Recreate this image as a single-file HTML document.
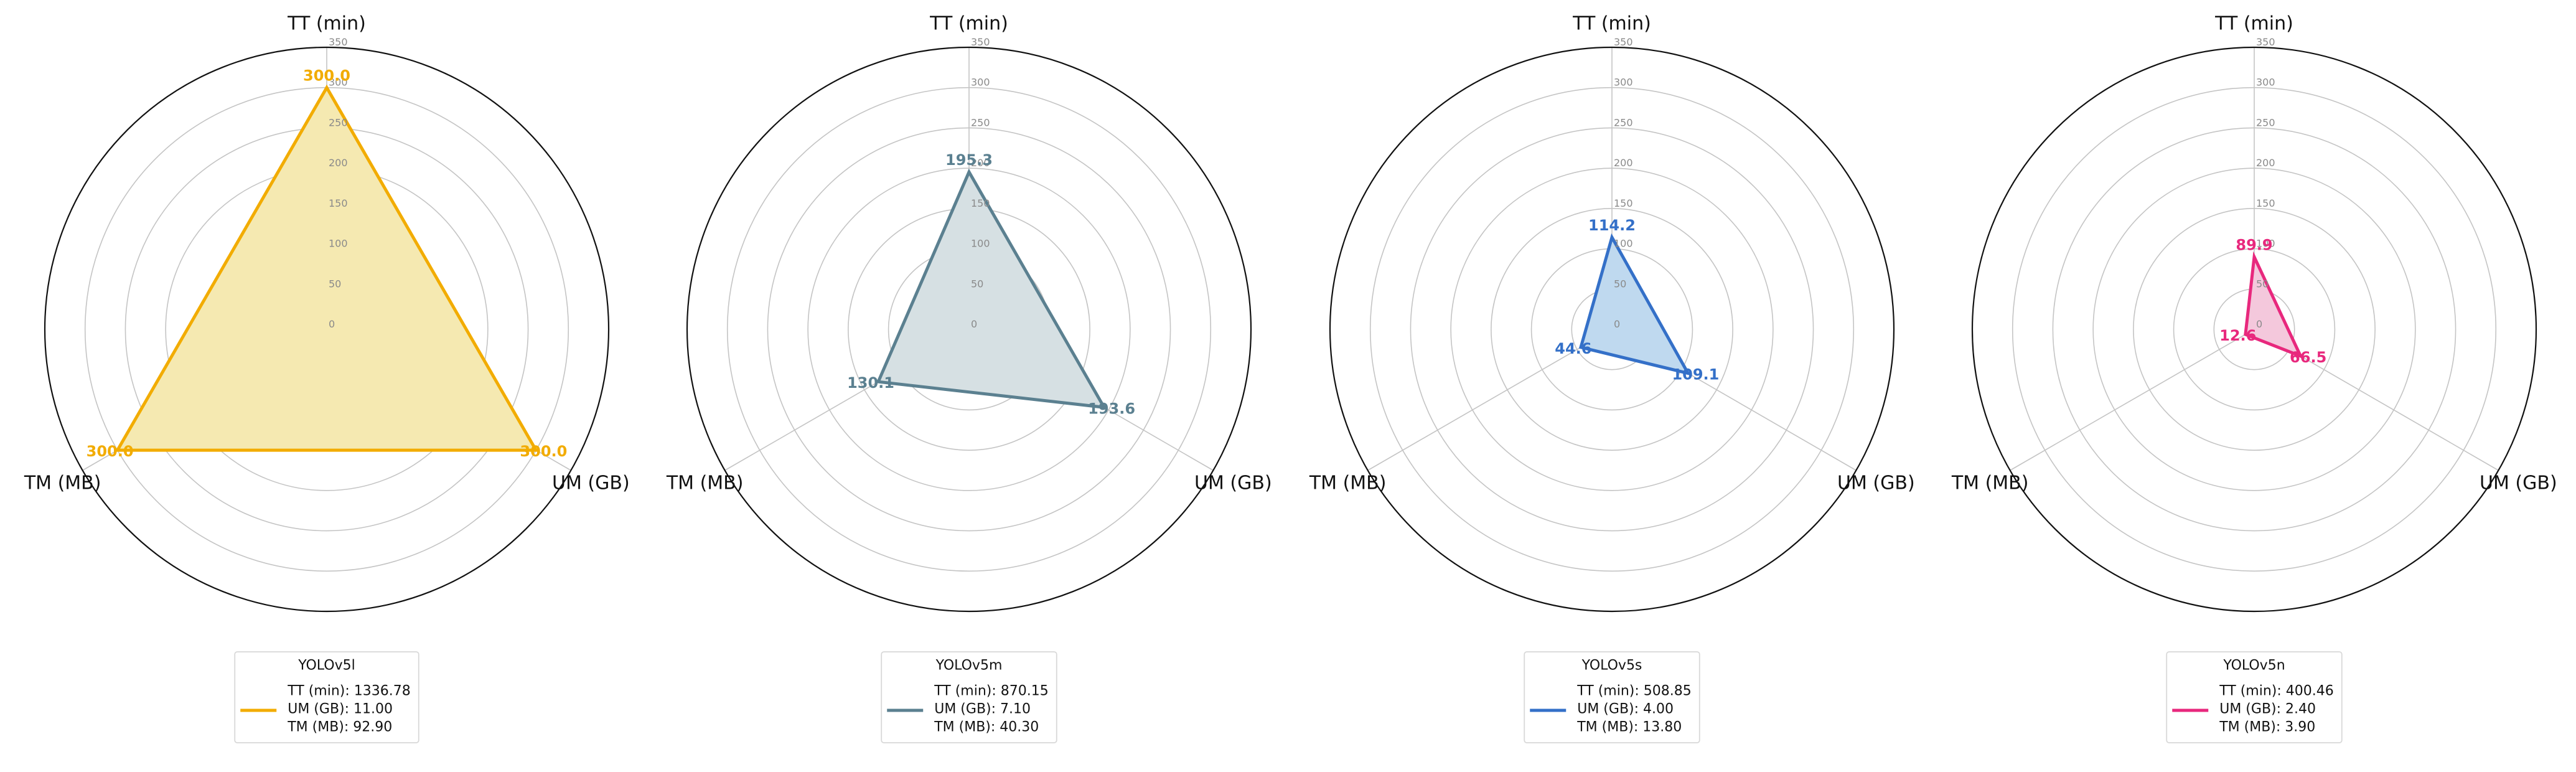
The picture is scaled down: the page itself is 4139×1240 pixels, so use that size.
<!DOCTYPE html>
<html><head><meta charset="utf-8">
<style>
html,body{margin:0;padding:0;background:#fff;}
svg{display:block;font-family:"DejaVu Sans","Liberation Sans",sans-serif;}
</style></head>
<body>
<svg id="chart" width="4139" height="1240" viewBox="0 0 4139 1240" xmlns="http://www.w3.org/2000/svg"></svg>
<script>
const axesNames = ["TT (min)", "UM (GB)", "TM (MB)"];
const models = ["YOLOv5l", "YOLOv5m", "YOLOv5s", "YOLOv5n"];
const ttScaled = [300.0, 195.3, 114.2, 89.9];
const umScaled = [300.0, 193.6, 109.1, 66.5];
const tmScaled = [300.0, 130.1, 44.6, 12.6];
const ttRaw = ["1336.78", "870.15", "508.85", "400.46"];
const umRaw = ["11.00", "7.10", "4.00", "2.40"];
const tmRaw = ["92.90", "40.30", "13.80", "3.90"];
const ringTicks = [0, 50, 100, 150, 200, 250, 300, 350];
const lineColors = ["#f2ac00", "#5b8090", "#3470c8", "#e8287d"];
const fillColors = ["#f5e9b1", "#d6e0e3", "#bfd9ef", "#f4c8dc"];

const NS = "http://www.w3.org/2000/svg";
const svg = document.getElementById("chart");
const RMAX = 350, RPX = 453, CY = 529;
const centersX = [525, 1557, 2590, 3622];
const angles = [90, -30, 210];
function el(tag, attrs, parent){ const e=document.createElementNS(NS,tag); for(const k in attrs) e.setAttribute(k,attrs[k]); (parent||svg).appendChild(e); return e; }
function rScale(v){ return v / RMAX * RPX; }
function pt(cx, ang, v){ const a=ang*Math.PI/180; const r=rScale(v); return [cx + r*Math.cos(a), CY - r*Math.sin(a)]; }

models.forEach((m, i) => {
  const cx = centersX[i];
  const g = el("g", {});
  
  
  ringTicks.forEach(t => {
    if (t === 0 || t === RMAX) return;
    const c = el("circle", {cx: cx, cy: CY, r: rScale(t), fill: "none", stroke: "#c4c4c4", "stroke-width": 1.6}, g);
    
    
  });
  angles.forEach((a, k) => {
    const p = pt(cx, a, RMAX);
    const l = el("line", {x1: cx, y1: CY, x2: p[0], y2: p[1], stroke: "#c4c4c4", "stroke-width": 1.6}, g);
    
    
  });
  const vals = [ttScaled[i], umScaled[i], tmScaled[i]];
  const pts = vals.map((v, k) => pt(cx, angles[k], v));
  const poly = el("polygon", {points: pts.map(p => p.join(",")).join(" "), fill: fillColors[i], stroke: lineColors[i], "stroke-width": 5, "stroke-linejoin": "miter"}, g);
  
  
  const oc = el("circle", {cx: cx, cy: CY, r: RPX, fill: "none", stroke: "#111", "stroke-width": 2.2}, g);
  
  
  ringTicks.forEach(t => {
    const tx = el("text", {x: cx + 3, y: CY - rScale(t) - 3, "font-size": 16, fill: "#8a8a8a"}, g);
    tx.textContent = String(t);
    
    
  });
  vals.forEach((v, k) => {
    const a = angles[k]*Math.PI/180;
    const p = pt(cx, angles[k], v);
    const x = p[0] + 14*Math.cos(a), y = p[1] - 14*Math.sin(a) - 5;
    const tx = el("text", {x: x, y: y, "font-size": 24, "font-weight": "bold", fill: lineColors[i], "text-anchor": "middle", "dominant-baseline": "central"}, g);
    tx.textContent = v.toFixed(1);
    
    
  });
  angles.forEach((a, k) => {
    const ar = a*Math.PI/180;
    let x, y;
    if (k === 0) { x = cx; y = 38; }
    else { x = cx + 490*Math.cos(ar); y = CY - 490*Math.sin(ar) + 2; }
    const tx = el("text", {x: x, y: y, "font-size": 30, fill: "#111", "text-anchor": "middle", "dominant-baseline": "central"}, g);
    tx.textContent = axesNames[k];
    
    
  });
  const lg = el("g", {}, g);
  
  
  const box = el("rect", {x: 0, y: 1047, width: 10, height: 146, rx: 4, fill: "#fff", stroke: "#d8d8d8", "stroke-width": 1.8}, lg);
  
  
  const lines = ["TT (min): " + ttRaw[i], "UM (GB): " + umRaw[i], "TM (MB): " + tmRaw[i]];
  const texts = lines.map((s, j) => {
    const tx = el("text", {x: 0, y: 1110 + j*29, "font-size": 22, fill: "#111", "dominant-baseline": "central"}, lg);
    tx.textContent = s;
    
    
    return tx;
  });
  let w = 0; texts.forEach(t => { w = Math.max(w, t.getComputedTextLength()); });
  const bw = 85 + w + 13;
  const bx = cx - bw/2;
  box.setAttribute("x", bx); box.setAttribute("width", bw);
  texts.forEach(t => t.setAttribute("x", bx + 85));
  const title = el("text", {x: cx, y: 1069, "font-size": 22, fill: "#111", "text-anchor": "middle", "dominant-baseline": "central"}, lg);
  title.textContent = m;
  
  
  const ll = el("line", {x1: bx + 9, y1: 1141, x2: bx + 67, y2: 1141, stroke: lineColors[i], "stroke-width": 5}, lg);
  
  
});
</script>
</body></html>
